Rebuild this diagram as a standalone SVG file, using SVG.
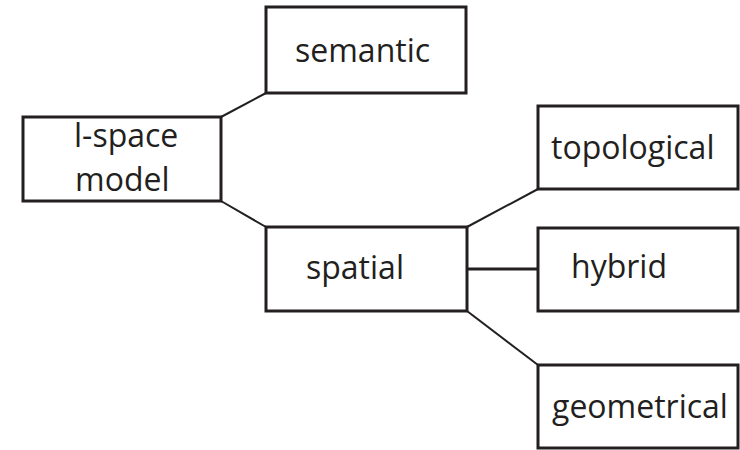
<svg xmlns="http://www.w3.org/2000/svg" width="740" height="450" viewBox="0 0 740 450">
<style>
.box{fill:#fff;stroke:#231f20;stroke-width:3}
.lbl{font-family:"Open Sans","Noto Sans",sans-serif;font-size:32px;fill:#231f20}
.con{stroke:#231f20;stroke-width:2;fill:none}
</style>
<rect width="740" height="450" fill="#fff"/>
<g id="connectors">
<line class="con" x1="221" y1="117" x2="266" y2="93"/>
<line class="con" x1="221" y1="201" x2="266" y2="227"/>
<line class="con" x1="467" y1="227" x2="538" y2="189"/>
<line class="con" x1="467" y1="269" x2="538" y2="269" style="stroke-width:3"/>
<line class="con" x1="467" y1="311" x2="538" y2="365"/>
</g>
<g id="ispace"><rect class="box" x="23" y="117" width="198" height="84"/><text class="lbl" x="74" y="147">l-space</text><text class="lbl" x="75" y="191">model</text></g>
<g id="semantic"><rect class="box" x="266" y="7" width="200" height="86"/><text class="lbl" x="295" y="62">semantic</text></g>
<g id="spatial"><rect class="box" x="266" y="227" width="201" height="84"/><text class="lbl" x="306" y="279">spatial</text></g>
<g id="topological"><rect class="box" x="538" y="106" width="200" height="83"/><text class="lbl" x="551" y="159">topological</text></g>
<g id="hybrid"><rect class="box" x="538" y="228" width="200" height="83"/><text class="lbl" x="571" y="278">hybrid</text></g>
<g id="geometrical"><rect class="box" x="538" y="365" width="200" height="83"/><text class="lbl" x="552" y="418">geometrical</text></g>
</svg>
